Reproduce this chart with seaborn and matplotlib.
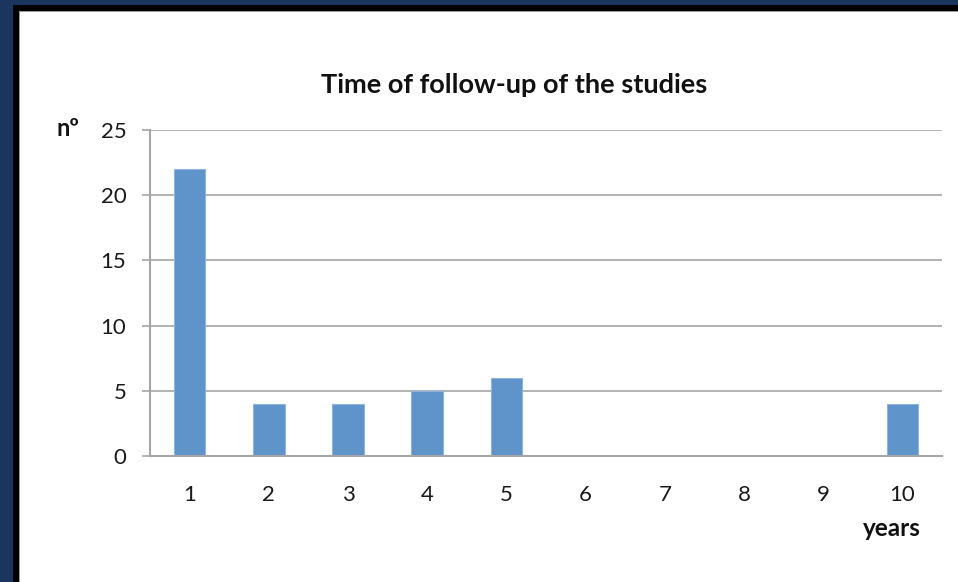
import matplotlib
matplotlib.use("Agg")
import matplotlib.pyplot as plt
from matplotlib.patches import Rectangle
import seaborn as sns
import pandas as pd

# Follow-up duration of the studies (years) and number of studies
years = ["1", "2", "3", "4", "5", "6", "7", "8", "9", "10"]
n_studies = [22, 4, 4, 5, 6, 0, 0, 0, 0, 4]
y_ticks = [0, 5, 10, 15, 20, 25]

title = "Time of follow-up of the studies"
y_label = "nº"
x_label = "years"

sns.set_theme(style="white")
plt.rcParams["font.family"] = ["Lato", "DejaVu Sans"]

W, H = 958, 582
fig = plt.figure(figsize=(W / 100, H / 100), dpi=100)
fig.patch.set_facecolor("white")

def px_rect(x0, y0, x1, y1, color, z):
    # rectangle given in pixel coordinates measured from the top-left corner
    fig.patches.append(Rectangle((x0 / W, 1 - y1 / H), (x1 - x0) / W, (y1 - y0) / H,
                                 transform=fig.transFigure, facecolor=color,
                                 edgecolor="none", zorder=z))

# dark slide frame
px_rect(0, 0, W, 5, "#1B365E", 0)
px_rect(0, 0, 13, H, "#1B365E", 0)
px_rect(13, 5, W, 11, "#000000", 0)
px_rect(13, 5, 19, H, "#000000", 0)
px_rect(19, 11, W, 12, "#9A9A9A", 0)
px_rect(19, 11, 20, H, "#9A9A9A", 0)

ax = fig.add_axes([150 / W, 1 - 456 / H, (942 - 150) / W, (456 - 130) / H])
ax.set_facecolor("white")

df = pd.DataFrame({"years": years, "n": n_studies})
sns.barplot(data=df, x="years", y="n", order=years, color="#5E94CA", saturation=1,
            width=0.4, edgecolor="#8FB4DE", linewidth=0.8, ax=ax, zorder=3)

ax.set_xlim(-0.5, len(years) - 0.5)
ax.set_ylim(0, 25)
ax.set_yticks(y_ticks)
ax.yaxis.grid(True, color="#A6A6A6", linewidth=1.2)
ax.set_axisbelow(True)

for s in ["top", "right"]:
    ax.spines[s].set_visible(False)
for s in ["left", "bottom"]:
    ax.spines[s].set_visible(True)
    ax.spines[s].set_color("#A6A6A6")
    ax.spines[s].set_linewidth(1.5)
    ax.spines[s].set_zorder(4)

ax.tick_params(axis="y", length=6, width=1.2, color="#A6A6A6", pad=11,
               labelsize=16, labelcolor="#1A1A1A", left=True)
ax.tick_params(axis="x", length=0, pad=21, labelsize=16, labelcolor="#1A1A1A")
ax.set_xlabel("")
ax.set_ylabel("")

fig.text(514 / W, 1 - 85 / H, title, ha="center", va="center",
         fontsize=19.5, fontweight="bold", color="#111111")
fig.text(68 / W, 1 - 128 / H, y_label, ha="center", va="center",
         fontsize=17, fontweight="bold", color="#111111")
fig.text(892 / W, 1 - 529 / H, x_label, ha="center", va="center",
         fontsize=17.5, fontweight="bold", color="#111111")

fig.savefig("out.png", dpi=100)
